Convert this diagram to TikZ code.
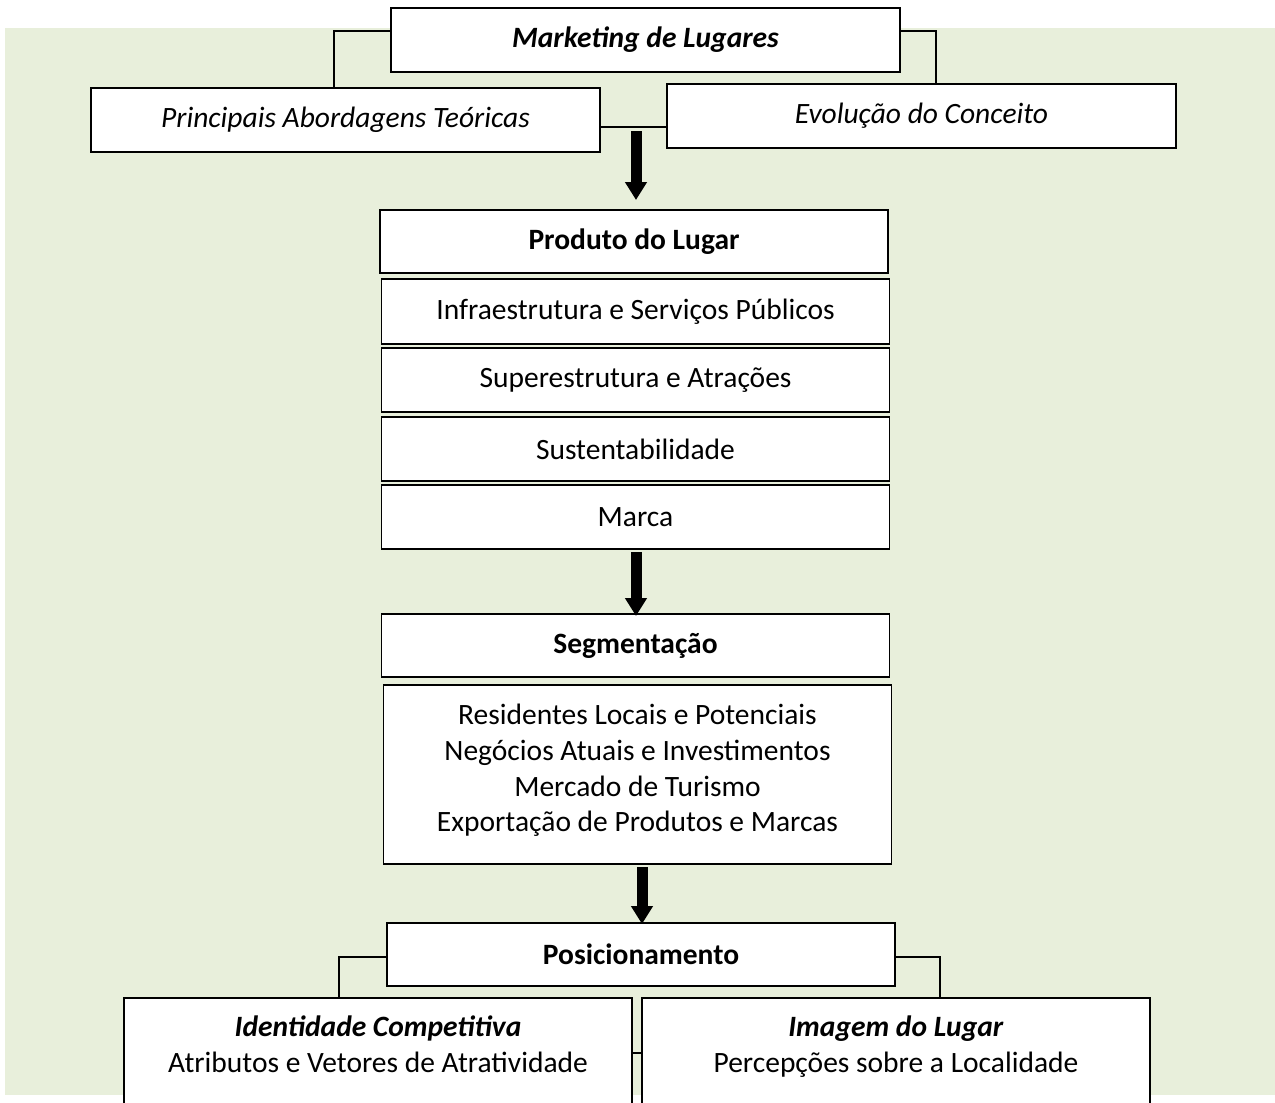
\documentclass[tikz,border=0pt]{standalone}
\usepackage{fontspec}
\setmainfont{Carlito}
\usetikzlibrary{arrows.meta}

\definecolor{fundo}{HTML}{E8EFDB}

\begin{document}
\begin{tikzpicture}[x=1pt,y=-1pt,
    caixa/.style={draw,line width=1.8pt,fill=white,inner sep=0pt,
      minimum width=508pt,minimum height=64pt,align=center,
      font=\fontsize{29.5}{35.7}\selectfont},
    liga/.style={line width=1.8pt},
    seta/.style={line width=11pt,-{Triangle[width=21pt,length=18pt]}}]
  \clip (0,0) rectangle (1275,1103);
  \useasboundingbox (0,0) rectangle (1275,1103);
  % background
  \fill[fundo] (5,28) rectangle (1275,1095);
  % top level
  \node[caixa,minimum width=509pt] (mkt) at (645.5,40) {\textbf{\textit{Marketing de Lugares}}};
  \node[caixa,minimum width=509pt] (abord) at (345.5,120) {\textit{Principais Abordagens Teóricas}};
  \node[caixa,minimum width=509pt] (evol) at (921.5,116) {\textit{Evolução do Conceito}};
  \coordinate (jmE) at (334,31);
  \coordinate (jmD) at (936,31);
  \draw[liga] (mkt.west |- jmE) -- (jmE) -- (jmE |- abord.north);
  \draw[liga] (mkt.east |- jmD) -- (jmD) -- (jmD |- evol.north);
  \draw[liga] (abord.east |- 0,127) -- (evol.west |- 0,127);
  % product of the place
  \node[caixa,minimum height=63pt] (prod) at (634,241.5) {\textbf{Produto do Lugar}};
  \node[caixa,minimum height=65pt] (infra) at (635.5,311.5) {Infraestrutura e Serviços Públicos};
  \node[caixa] (super) at (635.5,380) {Superestrutura e Atrações};
  \node[caixa] (sust) at (635.5,449) {Sustentabilidade};
  \node[caixa] (marca) at (635.5,517) {Marca};
  \coordinate (s1) at (636,131);
  \coordinate (s1b) at (636,200);
  \draw[seta] (s1) -- (s1b);
  % segmentation
  \node[caixa,minimum height=63pt] (seg) at (635.5,645.5) {\textbf{Segmentação}};
  \node[caixa,minimum height=179pt,text depth=13pt] (lista) at (637.5,774.5) {Residentes Locais e Potenciais\\
    Negócios Atuais e Investimentos\\Mercado de Turismo\\Exportação de Produtos e Marcas};
  \draw[seta] (636,552) -- (636,616);
  % positioning
  \node[caixa,minimum height=63pt] (pos) at (641,954.5) {\textbf{Posicionamento}};
  \draw[seta] (642,867) -- (642,924);
  \node[caixa,minimum height=142pt,text depth=50pt] (ident) at (378,1069)
    {\textbf{\textit{Identidade Competitiva}}\\Atributos e Vetores de Atratividade};
  \node[caixa,minimum height=142pt,text depth=50pt] (imag) at (896,1069)
    {\textbf{\textit{Imagem do Lugar}}\\Percepções sobre a Localidade};
  \coordinate (jpE) at (339,957);
  \coordinate (jpD) at (940,957);
  \draw[liga] (pos.west |- jpE) -- (jpE) -- (jpE |- ident.north);
  \draw[liga] (pos.east |- jpD) -- (jpD) -- (jpD |- imag.north);
  \draw[liga] (ident.east |- 0,1053) -- (imag.west |- 0,1053);
\end{tikzpicture}
\end{document}
